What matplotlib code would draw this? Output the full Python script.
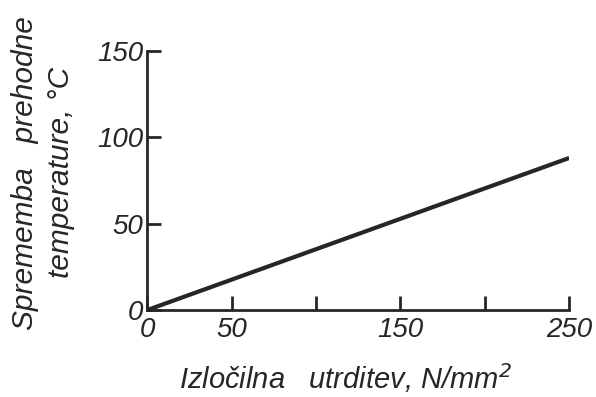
import matplotlib.pyplot as plt

# data
hardening = [0, 250]          # N/mm^2
temp_shift = [0, 88]          # degC
x_ticks = [0, 50, 100, 150, 200, 250]
x_tick_labels = ['0', '50', '', '150', '', '250']
y_ticks = [0, 50, 100, 150]
y_tick_labels = ['0', '50', '100', '150']

INK = '#262626'

plt.rcParams['font.family'] = ['Liberation Sans', 'DejaVu Sans']
plt.rcParams['font.style'] = 'italic'

fig = plt.figure(figsize=(5.96, 3.97), dpi=100)
ax = fig.add_axes([0.247, 0.219, 0.708, 0.653])

ax.plot(hardening, temp_shift, color=INK, lw=3, solid_capstyle='butt')

ax.set_xlim(0, 250)
ax.set_ylim(0, 150)
ax.set_xticks(x_ticks)
ax.set_xticklabels(x_tick_labels)
ax.set_yticks(y_ticks)
ax.set_yticklabels(y_tick_labels)

for side in ['top', 'right']:
    ax.spines[side].set_visible(False)
for side in ['left', 'bottom']:
    ax.spines[side].set_linewidth(2)
    ax.spines[side].set_color(INK)

ax.tick_params(direction='in', length=10, width=2, color=INK,
               labelsize=20, labelcolor=INK)
ax.tick_params(axis='x', pad=5)
ax.tick_params(axis='y', pad=3)

ax.set_xlabel('Izločilna   utrditev, N/mm$^2$', fontsize=21, color=INK)
ax.xaxis.set_label_coords(0.469, -0.195)
ax.set_ylabel('Sprememba   prehodne\ntemperature, °C', fontsize=21.5,
              color=INK, linespacing=1.4)
ax.yaxis.set_label_coords(-0.17, 0.53)

fig.savefig('out.png', dpi=100)
